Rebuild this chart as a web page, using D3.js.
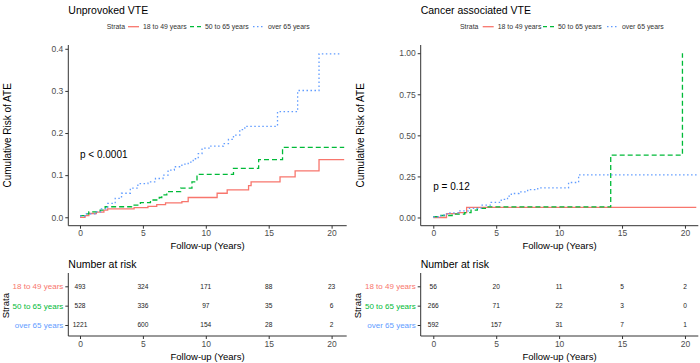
<!DOCTYPE html>
<html><head><meta charset="utf-8">
<script src="https://cdn.jsdelivr.net/npm/d3@7"></script>
<style>body{margin:0;background:#fff}svg{display:block;font-family:"Liberation Sans",Arial,sans-serif}</style>
</head><body><svg id="c" width="700" height="363"></svg>
<script>
// ---------- data ----------
const strata = ["18 to 49 years", "50 to 65 years", "over 65 years"];
const colors = ["#F8766D", "#00BA38", "#619CFF"];
const xTicks = [0, 5, 10, 15, 20];
const titles = ["Unprovoked VTE", "Cancer associated VTE"];
const pValues = ["p < 0.0001", "p = 0.12"];
const yTicksLeft = [0, 0.1, 0.2, 0.3, 0.4];
const yTickLabelsLeft = ["0.0", "0.1", "0.2", "0.3", "0.4"];
const yTicksRight = [0, 0.25, 0.5, 0.75, 1.0];
const yTickLabelsRight = ["0.00", "0.25", "0.50", "0.75", "1.00"];

// [time (years), cumulative risk]
const unprov18to49 = [[0,0],[0.4,0.004],[0.7,0.009],[1.3,0.012],[1.9,0.017],[2.2,0.020],[4.3,0.023],[5.4,0.026],[6.1,0.030],[6.8,0.034],[8.1,0.037],[8.6,0.047],[10.9,0.057],[11.7,0.065],[13.4,0.075],[13.6,0.084],[15.9,0.096],[17.1,0.110],[19.0,0.137],[21.0,0.137]];
const unprov50to65 = [[0,0.004],[0.4,0.008],[0.7,0.013],[1.6,0.017],[2.0,0.025],[4.1,0.029],[4.8,0.035],[5.6,0.041],[6.3,0.047],[6.5,0.053],[6.9,0.061],[8.0,0.069],[8.9,0.084],[9.3,0.102],[12.2,0.116],[14.2,0.137],[16.1,0.166],[21.0,0.166]];
const unprovOver65 = [[0,0.003],[0.5,0.008],[1.2,0.013],[1.7,0.020],[2.2,0.033],[2.8,0.045],[3.3,0.057],[4.0,0.069],[4.6,0.080],[5.4,0.084],[6.0,0.092],[6.6,0.100],[7.0,0.112],[7.5,0.120],[8.1,0.126],[8.6,0.131],[9.0,0.139],[9.4,0.151],[9.7,0.164],[10.4,0.169],[11.4,0.175],[11.8,0.185],[12.2,0.195],[12.7,0.208],[13.1,0.216],[15.7,0.251],[17.3,0.301],[19.0,0.388],[20.8,0.388]];

const cancer18to49 = [[0,0],[1.05,0.024],[2.0,0.030],[2.65,0.061],[20.9,0.061]];
const cancer50to65 = [[0,0.005],[0.5,0.012],[1.5,0.020],[2.5,0.030],[3.0,0.045],[3.5,0.055],[4.2,0.065],[14.1,0.38],[19.8,1.0]];
const cancerOver65 = [[0,0.003],[0.6,0.015],[1.1,0.028],[2.0,0.040],[2.8,0.055],[3.8,0.075],[4.6,0.092],[5.4,0.110],[5.9,0.130],[6.2,0.146],[6.8,0.156],[7.5,0.170],[8.3,0.180],[10.75,0.213],[11.55,0.260],[21.0,0.260]];

// number at risk at 0,5,10,15,20
const riskUnprov = [[493,324,171,88,23],[528,336,97,35,6],[1221,600,154,28,2]];
const riskCancer = [[56,20,11,5,2],[266,71,22,3,0],[592,157,31,7,1]];

// ---------- drawing ----------
const svg = d3.select("#c");
const dashes = [null, "5,3", "1.5,2.5"];
const panels = [
  {x0:68.3, x1:346.7, xd:[-0.93,21.2], yd:[-0.02,0.409], yt:yTicksLeft, yl:yTickLabelsLeft,
   curves:[unprov18to49,unprov50to65,unprovOver65], risk:riskUnprov, title:titles[0], p:pValues[0], pv:0.15,
   ytx:7.5, leg:{strata:106.7, items:[128,190,253]}},
  {x0:420.7, x1:698.3, xd:[-1.0,21.06], yd:[-0.05,1.05], yt:yTicksRight, yl:yTickLabelsRight,
   curves:[cancer18to49,cancer50to65,cancerOver65], risk:riskCancer, title:titles[1], p:pValues[1], pv:0.19,
   ytx:360.5, leg:{strata:460, items:[482.7,543,607]}}
];
const plotTop = 45, plotBot = 225.7;
const tTop = 273, tBot = 336;
const axisCol = "#333", tickTxt = "#4D4D4D";

panels.forEach((P, pi) => {
  const x = d3.scaleLinear().domain(P.xd).range([P.x0, P.x1]);
  const y = d3.scaleLinear().domain(P.yd).range([plotBot, plotTop]);
  const g = svg.append("g");

  // title
  g.append("text").attr("x", P.x0).attr("y", 14).attr("font-size", 10.5).attr("fill", "#000").text(P.title);

  // legend
  const lg = g.append("g").attr("font-size", 6.9).attr("fill", "#333");
  lg.append("text").attr("x", P.leg.strata).attr("y", 29.2).text("Strata");
  strata.forEach((s, i) => {
    const lx = P.leg.items[i];
    lg.append("line").attr("x1", lx).attr("x2", lx + 11).attr("y1", 26.7).attr("y2", 26.7)
      .attr("stroke", colors[i]).attr("stroke-width", 1.3).attr("stroke-dasharray", i === 1 ? "4,3" : dashes[i]);
    lg.append("text").attr("x", lx + 15).attr("y", 29.2).text(s);
  });

  // axes
  const ya = d3.axisLeft(y).tickValues(P.yt).tickFormat((d, i) => P.yl[i]).tickSize(3).tickPadding(2).tickSizeOuter(0);
  const yg = g.append("g").attr("transform", `translate(${P.x0},0)`).call(ya);
  yg.select(".domain").remove();
  yg.selectAll("text").attr("font-size", 8.5).attr("fill", tickTxt).attr("font-family", "Liberation Sans, Arial, sans-serif");
  yg.selectAll("line").attr("stroke", axisCol);
  const xa = d3.axisBottom(x).tickValues(xTicks).tickSize(3).tickPadding(1.5).tickSizeOuter(0);
  const xg = g.append("g").attr("transform", `translate(0,${plotBot})`).call(xa);
  xg.select(".domain").remove();
  xg.selectAll("text").attr("font-size", 8.5).attr("fill", tickTxt).attr("font-family", "Liberation Sans, Arial, sans-serif");
  xg.selectAll("line").attr("stroke", axisCol);
  g.append("line").attr("x1", P.x0).attr("x2", P.x0).attr("y1", plotTop).attr("y2", plotBot).attr("stroke", axisCol).attr("stroke-width", 1);
  g.append("line").attr("x1", P.x0).attr("x2", P.x1).attr("y1", plotBot).attr("y2", plotBot).attr("stroke", axisCol).attr("stroke-width", 1);

  // axis titles
  g.append("text").attr("transform", `translate(${P.ytx + 3.5},${(plotTop + plotBot) / 2}) rotate(-90)`)
    .attr("text-anchor", "middle").attr("font-size", 10).attr("fill", "#000").text("Cumulative Risk of ATE");
  g.append("text").attr("x", (P.x0 + P.x1) / 2).attr("y", 248.5).attr("text-anchor", "middle")
    .attr("font-size", 9.5).attr("fill", "#000").text("Follow-up (Years)");

  // curves
  const line = d3.line().x(d => x(d[0])).y(d => y(d[1])).curve(d3.curveStepAfter);
  P.curves.forEach((c, i) => {
    g.append("path").datum(c).attr("d", line).attr("fill", "none").attr("stroke", colors[i])
      .attr("stroke-width", 1.3).attr("stroke-dasharray", dashes[i]);
  });

  // p value
  g.append("text").attr("x", x(0)).attr("y", y(P.pv) + 3.5).attr("font-size", 10).attr("fill", "#000").text(P.p);

  // risk table
  const ry = d3.scalePoint().domain(strata).range([286.3, 325]);
  g.append("text").attr("x", P.x0).attr("y", 268).attr("font-size", 10.5).attr("fill", "#000").text("Number at risk");
  const rya = d3.axisLeft(ry).tickSize(3).tickPadding(2).tickSizeOuter(0);
  const ryg = g.append("g").attr("transform", `translate(${P.x0},0)`).call(rya);
  ryg.select(".domain").remove();
  ryg.selectAll("line").attr("stroke", axisCol);
  ryg.selectAll("text").attr("font-size", 8).attr("font-family", "Liberation Sans, Arial, sans-serif")
    .attr("fill", (d) => colors[strata.indexOf(d)]);
  const rxa = d3.axisBottom(x).tickValues(xTicks).tickSize(3).tickPadding(1.5).tickSizeOuter(0);
  const rxg = g.append("g").attr("transform", `translate(0,${tBot})`).call(rxa);
  rxg.select(".domain").remove();
  rxg.selectAll("text").attr("font-size", 8.5).attr("fill", tickTxt).attr("font-family", "Liberation Sans, Arial, sans-serif");
  rxg.selectAll("line").attr("stroke", axisCol);
  g.append("line").attr("x1", P.x0).attr("x2", P.x0).attr("y1", tTop).attr("y2", tBot).attr("stroke", axisCol);
  g.append("line").attr("x1", P.x0).attr("x2", P.x1).attr("y1", tBot).attr("y2", tBot).attr("stroke", axisCol);
  P.risk.forEach((row, i) => {
    row.forEach((n, j) => {
      g.append("text").attr("x", x(xTicks[j])).attr("y", ry(strata[i]) + 2.4).attr("text-anchor", "middle")
        .attr("font-size", 6.6).attr("fill", "#222").text(n);
    });
  });
  g.append("text").attr("x", (P.x0 + P.x1) / 2).attr("y", 360).attr("text-anchor", "middle")
    .attr("font-size", 9.5).attr("fill", "#000").text("Follow-up (Years)");
  g.append("text").attr("transform", `translate(${pi === 0 ? 9 : 361},305.7) rotate(-90)`).attr("text-anchor", "middle")
    .attr("font-size", 9.5).attr("fill", "#000").text("Strata");
});
</script></body></html>
